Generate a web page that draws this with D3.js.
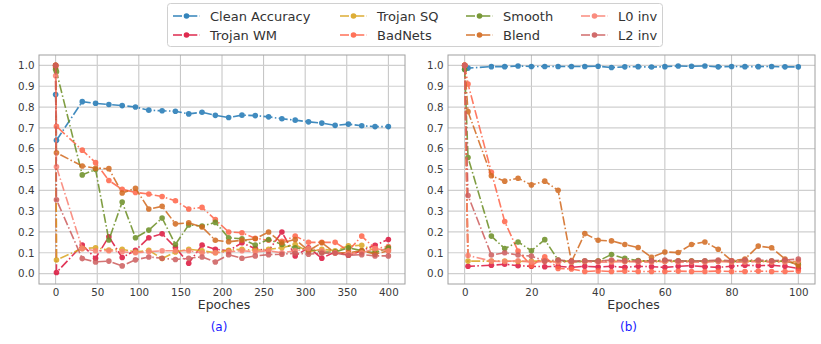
<!DOCTYPE html>
<html>
<head>
<meta charset="utf-8">
<script src="https://cdn.jsdelivr.net/npm/d3@7"></script>
<style>
  body { margin: 0; background: #fff; }
  svg { display: block; font-family: "DejaVu Sans", sans-serif; }
</style>
</head>
<body>
<svg width="821" height="344"></svg>
<script>
// epochs for the two panels
const epochsA = [0, 1, 32, 48, 64, 80, 96, 112, 128, 144, 160, 176, 192, 208, 224, 240, 256, 272, 288, 304, 320, 336, 352, 368, 384, 400];
const epochsB = [0, 1, 8, 12, 16, 20, 24, 28, 32, 36, 40, 44, 48, 52, 56, 60, 64, 68, 72, 76, 80, 84, 88, 92, 96, 100];

const seriesNames = ["Clean Accuracy", "Trojan WM", "Trojan SQ", "BadNets", "Smooth", "Blend", "L0 inv", "L2 inv"];
const seriesColors = ["#1f77b4", "#dc143c", "#daa520", "#ff6347", "#6b8e23", "#d2691e", "#fa8072", "#cd5c5c"];

// panel (a)
const cleanA   = [0.86, 0.64, 0.826, 0.818, 0.812, 0.807, 0.80, 0.785, 0.782, 0.78, 0.767, 0.775, 0.76, 0.75, 0.761, 0.759, 0.753, 0.744, 0.737, 0.729, 0.723, 0.712, 0.718, 0.71, 0.706, 0.706];
const wmA      = [1.0, 0.005, 0.137, 0.074, 0.177, 0.077, 0.112, 0.172, 0.191, 0.125, 0.05, 0.137, 0.117, 0.11, 0.148, 0.12, 0.11, 0.2, 0.085, 0.124, 0.074, 0.104, 0.088, 0.11, 0.136, 0.164];
const sqA      = [1.0, 0.065, 0.121, 0.124, 0.113, 0.117, 0.104, 0.112, 0.072, 0.104, 0.117, 0.11, 0.10, 0.112, 0.117, 0.112, 0.117, 0.124, 0.14, 0.104, 0.117, 0.11, 0.133, 0.136, 0.11, 0.117];
const badnetsA = [0.99, 0.707, 0.593, 0.533, 0.447, 0.405, 0.39, 0.382, 0.37, 0.35, 0.31, 0.318, 0.259, 0.2, 0.196, 0.17, 0.16, 0.155, 0.18, 0.15, 0.15, 0.15, 0.11, 0.18, 0.12, 0.13];
const smoothA  = [0.98, 0.97, 0.474, 0.50, 0.161, 0.344, 0.172, 0.209, 0.267, 0.14, 0.234, 0.228, 0.246, 0.172, 0.167, 0.137, 0.164, 0.14, 0.124, 0.117, 0.104, 0.104, 0.124, 0.11, 0.10, 0.124];
const blendA   = [1.0, 0.58, 0.517, 0.506, 0.504, 0.387, 0.41, 0.31, 0.323, 0.239, 0.244, 0.224, 0.16, 0.153, 0.16, 0.167, 0.2, 0.148, 0.164, 0.11, 0.148, 0.10, 0.10, 0.11, 0.093, 0.11];
const l0A      = [0.95, 0.513, 0.12, 0.11, 0.11, 0.105, 0.10, 0.105, 0.11, 0.11, 0.11, 0.10, 0.10, 0.105, 0.11, 0.105, 0.11, 0.10, 0.11, 0.12, 0.11, 0.10, 0.095, 0.10, 0.12, 0.11];
const l2A      = [1.0, 0.355, 0.072, 0.056, 0.06, 0.037, 0.066, 0.08, 0.074, 0.068, 0.074, 0.08, 0.056, 0.091, 0.074, 0.085, 0.091, 0.093, 0.098, 0.093, 0.098, 0.098, 0.088, 0.091, 0.085, 0.085];

// panel (b)
const cleanB   = [0.982, 0.987, 0.994, 0.994, 0.997, 0.995, 0.995, 0.995, 0.995, 0.995, 0.996, 0.99, 0.993, 0.994, 0.992, 0.994, 0.997, 0.996, 0.997, 0.993, 0.995, 0.994, 0.994, 0.995, 0.993, 0.993];
const wmB      = [1.0, 0.035, 0.04, 0.045, 0.038, 0.035, 0.033, 0.035, 0.03, 0.035, 0.032, 0.035, 0.03, 0.035, 0.033, 0.03, 0.035, 0.038, 0.033, 0.03, 0.035, 0.04, 0.038, 0.04, 0.035, 0.025];
const sqB      = [1.0, 0.06, 0.06, 0.06, 0.058, 0.06, 0.06, 0.058, 0.06, 0.058, 0.06, 0.06, 0.058, 0.06, 0.06, 0.058, 0.06, 0.06, 0.058, 0.06, 0.058, 0.06, 0.06, 0.058, 0.06, 0.055];
const badnetsB = [1.0, 0.911, 0.487, 0.25, 0.108, 0.038, 0.081, 0.025, 0.022, 0.01, 0.013, 0.01, 0.012, 0.01, 0.01, 0.01, 0.012, 0.01, 0.01, 0.012, 0.01, 0.01, 0.012, 0.01, 0.01, 0.012];
const smoothB  = [0.98, 0.558, 0.18, 0.12, 0.152, 0.11, 0.163, 0.065, 0.055, 0.06, 0.06, 0.092, 0.073, 0.063, 0.06, 0.063, 0.06, 0.06, 0.06, 0.06, 0.058, 0.06, 0.06, 0.06, 0.06, 0.045];
const blendB   = [1.0, 0.778, 0.47, 0.444, 0.458, 0.426, 0.444, 0.40, 0.057, 0.192, 0.16, 0.157, 0.14, 0.125, 0.078, 0.104, 0.101, 0.14, 0.152, 0.117, 0.062, 0.07, 0.132, 0.124, 0.07, 0.038];
const l0B      = [1.0, 0.087, 0.06, 0.058, 0.062, 0.055, 0.058, 0.055, 0.055, 0.058, 0.055, 0.055, 0.058, 0.055, 0.055, 0.058, 0.055, 0.055, 0.055, 0.058, 0.055, 0.055, 0.058, 0.055, 0.055, 0.06];
const l2B      = [1.0, 0.375, 0.089, 0.1, 0.089, 0.084, 0.06, 0.065, 0.06, 0.062, 0.06, 0.065, 0.062, 0.06, 0.062, 0.065, 0.062, 0.06, 0.062, 0.065, 0.062, 0.065, 0.065, 0.062, 0.065, 0.07];

const xTicksA = [0, 50, 100, 150, 200, 250, 300, 350, 400];
const xTicksB = [0, 20, 40, 60, 80, 100];
const yTicks = [0, 0.1, 0.2, 0.3, 0.4, 0.5, 0.6, 0.7, 0.8, 0.9, 1.0];

const svg = d3.select("svg");
const dash = "9,2.4,1.5,2.4";

function drawPanel(cfg) {
    const { left, right, top, bottom, xDomain, xTicks, epochs, values, caption } = cfg;
    const x = d3.scaleLinear().domain(xDomain).range([left, right]);
    const y = d3.scaleLinear().domain([-0.05, 1.05]).range([bottom, top]);
    const g = svg.append("g");

    // grid
    g.selectAll(".vg").data(xTicks).join("line")
        .attr("x1", d => x(d)).attr("x2", d => x(d))
        .attr("y1", top).attr("y2", bottom)
        .attr("stroke", "#c2c2c2").attr("stroke-width", 1);
    g.selectAll(".hg").data(yTicks).join("line")
        .attr("x1", left).attr("x2", right)
        .attr("y1", d => y(d)).attr("y2", d => y(d))
        .attr("stroke", "#cfcfcf").attr("stroke-width", 1.2);

    // axes (ticks hidden, labels only)
    const xAxis = g.append("g").attr("transform", `translate(0,${bottom})`)
        .call(d3.axisBottom(x).tickValues(xTicks).tickFormat(d3.format("d")).tickSize(0).tickPadding(4.5));
    const yAxis = g.append("g").attr("transform", `translate(${left},0)`)
        .call(d3.axisLeft(y).tickValues(yTicks).tickFormat(d3.format(".1f")).tickSize(0).tickPadding(4.5));
    [xAxis, yAxis].forEach(a => {
        a.select(".domain").remove();
        a.selectAll(".tick text").attr("fill", "#3a3a3a").attr("font-size", 10.3)
            .attr("font-family", "DejaVu Sans, sans-serif");
    });

    // frame
    g.append("rect").attr("x", left).attr("y", top)
        .attr("width", right - left).attr("height", bottom - top)
        .attr("fill", "none").attr("stroke", "#a0a0a0").attr("stroke-width", 1);

    const line = d3.line().x(d => x(d[0])).y(d => y(d[1]));

    values.forEach((vals, i) => {
        const pts = epochs.map((e, j) => [e, vals[j]]);
        const s = g.append("g").attr("opacity", 0.85);
        s.append("path").datum(pts)
            .attr("d", line)
            .attr("fill", "none")
            .attr("stroke", seriesColors[i])
            .attr("stroke-width", 1.6)
            .attr("stroke-dasharray", dash);
        s.selectAll("circle").data(pts).join("circle")
            .attr("cx", d => x(d[0])).attr("cy", d => y(d[1]))
            .attr("r", 2.8).attr("fill", seriesColors[i]);
    });

    g.append("text").attr("x", (left + right) / 2 + 2).attr("y", 309)
        .attr("text-anchor", "middle").attr("font-size", 12.5).attr("fill", "#333")
        .text("Epoches");
    g.append("text").attr("x", (left + right) / 2 - 3).attr("y", 331)
        .attr("text-anchor", "middle").attr("font-size", 12).attr("fill", "#1a1aff")
        .text(caption);
}

drawPanel({
    left: 39, right: 405, top: 55, bottom: 284,
    xDomain: [-20, 420], xTicks: xTicksA, epochs: epochsA,
    values: [cleanA, wmA, sqA, badnetsA, smoothA, blendA, l0A, l2A],
    caption: "(a)"
});
drawPanel({
    left: 448, right: 815, top: 55, bottom: 284,
    xDomain: [-5, 105], xTicks: xTicksB, epochs: epochsB,
    values: [cleanB, wmB, sqB, badnetsB, smoothB, blendB, l0B, l2B],
    caption: "(b)"
});

// legend, 4 columns x 2 rows
function drawLegend() {
    const lg = svg.append("g");
    lg.append("rect").attr("x", 167.5).attr("y", 3.5).attr("width", 495).attr("height", 43)
        .attr("rx", 3).attr("fill", "#fff").attr("stroke", "#d0d0d0");
    const colX = [173, 340, 466, 581];
    const rowY = [16, 35];
    seriesNames.forEach((name, i) => {
        const cx = colX[Math.floor(i / 2)];
        const cy = rowY[i % 2];
        const item = lg.append("g").attr("opacity", 0.9);
        item.append("line").attr("x1", cx).attr("x2", cx + 27).attr("y1", cy).attr("y2", cy)
            .attr("stroke", seriesColors[i]).attr("stroke-width", 1.6)
            .attr("stroke-dasharray", dash);
        item.append("circle").attr("cx", cx + 13.5).attr("cy", cy).attr("r", 2.8)
            .attr("fill", seriesColors[i]);
        lg.append("text").attr("x", cx + 37).attr("y", cy + 4.5)
            .attr("font-size", 13).attr("fill", "#333").text(name);
    });
}
drawLegend();
</script>
</body>
</html>
